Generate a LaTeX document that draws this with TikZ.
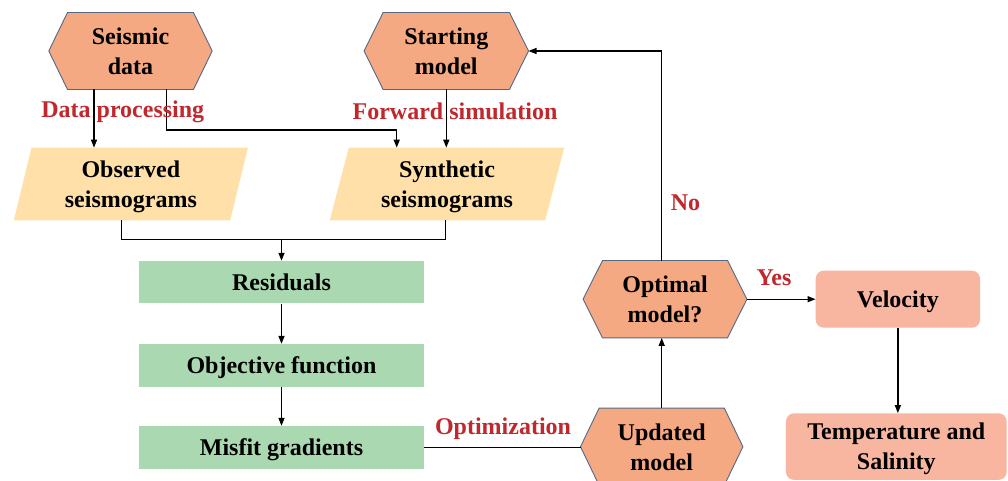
\documentclass[tikz,border=0pt]{standalone}
\usepackage{fontspec}
\setmainfont{Liberation Serif}
\usetikzlibrary{arrows.meta,backgrounds}
\definecolor{hexfill}{RGB}{244,169,130}
\definecolor{hexline}{RGB}{84,104,134}
\definecolor{parafill}{RGB}{255,224,168}
\definecolor{boxgreen}{RGB}{170,216,176}
\definecolor{resfill}{RGB}{248,182,160}
\definecolor{lblred}{RGB}{192,40,45}
\tikzset{
 txt/.style={font=\fontsize{24}{30}\selectfont\bfseries, align=center, inner sep=0pt, text depth=0pt},
 hexnode/.style={txt, minimum width=163pt, minimum height=76.6pt},
 paranode/.style={txt, minimum width=216pt, minimum height=72.3pt},
 greenbox/.style={txt, fill=boxgreen, minimum width=285pt, minimum height=42.5pt},
 resbox/.style={txt, fill=resfill, rounded corners=8pt},
 lbl/.style={font=\fontsize{24}{30}\selectfont\bfseries, text=lblred, inner sep=0pt, anchor=base},
 conn/.style={line width=1.4pt, black},
 arr/.style={conn, -{Triangle[length=8pt,width=6pt]}},
 hexpath/.style={fill=hexfill, draw=hexline, line width=0.9pt},
}
\newcommand{\hexbg}[2]{%
 \begin{scope}[on background layer]
 \path[hexpath] (#1.west) -- ([xshift=#2]#1.north west) -- ([xshift=-#2]#1.north east) -- (#1.east) -- ([xshift=-#2]#1.south east) -- ([xshift=#2]#1.south west) -- cycle;
 \end{scope}}
\newcommand{\parabg}[2]{%
 \begin{scope}[on background layer]
 \fill[parafill] ([xshift=#2]#1.north west) -- ([xshift=#2]#1.north east) -- ([xshift=-#2]#1.south east) -- ([xshift=-#2]#1.south west) -- cycle;
 \end{scope}}
\begin{document}
\begin{tikzpicture}[x=1pt,y=-1pt]
\useasboundingbox (0,0) rectangle (1008,481);
% nodes
\node[hexnode] (sd) at (130.5,51) {Seismic\\data};
\node[hexnode, minimum width=164pt] (sm) at (446.3,51) {Starting\\model};
\node[paranode] (obs) at (130.85,184) {Observed\\seismograms};
\node[paranode, minimum width=215pt] (syn) at (447,184) {Synthetic\\seismograms};
\node[greenbox] (res) at (281.5,282.2) {Residuals};
\node[greenbox] (obj) at (281.5,365.3) {Objective function};
\node[greenbox] (mis) at (281.5,447.3) {Misfit gradients};
\node[hexnode, minimum width=163.4pt, minimum height=77pt] (opt) at (665,299.2) {Optimal\\model?};
\node[hexnode, minimum width=162pt, minimum height=76.8pt] (upd) at (661.7,446.7) {Updated\\model};
\node[resbox, minimum width=164.3pt, minimum height=57pt] (vel) at (897.85,299.2) {Velocity};
\node[resbox, minimum width=220.7pt, minimum height=66.5pt] (tmp) at (896.3,446.6) {Temperature and\\Salinity};
% shapes
\hexbg{sd}{18.7pt}
\hexbg{sm}{19pt}
\hexbg{opt}{19.4pt}
\hexbg{upd}{18.6pt}
\parabg{obs}{8.85pt}
\parabg{syn}{9.5pt}
% connectors
\draw[arr] ([xshift=-36.5pt]sd.south) -- ([xshift=-36.5pt]sd.south |- obs.north);
\coordinate (j1) at (396.7,130);
\draw[arr] ([xshift=36.2pt]sd.south) |- (j1) -- (j1 |- syn.north);
\draw[arr] (sm.south) -- (sm.south |- syn.north);
\coordinate (j2) at (281.5,239.3);
\draw[conn] ([xshift=-9.15pt]obs.south) |- (j2);
\draw[conn] ([xshift=-1.3pt]syn.south) |- (j2);
\draw[arr] (j2) -- (res.north);
\draw[arr] (res.south) -- (obj.north);
\draw[arr] (obj.south) -- (mis.north);
\draw[conn] (mis.east) -- (mis.east -| upd.west);
\draw[arr] (upd.north) -- (upd.north |- opt.south);
\draw[arr] (upd.north |- opt.north) |- (sm.east);
\draw[arr] (opt.east) -- (vel.west);
\draw[arr] (vel.south) -- (vel.south |- tmp.north);
% labels
\node[lbl] (l1) at (122.8,118) {Data processing};
\node[lbl] (l2) at (455,120) {Forward simulation};
\node[lbl] (l3) at (503,434.5) {Optimization};
\node[lbl] (l4) at (685.5,210) {No};
\node[lbl] (l5) at (774,285) {Yes};
\end{tikzpicture}
\end{document}
